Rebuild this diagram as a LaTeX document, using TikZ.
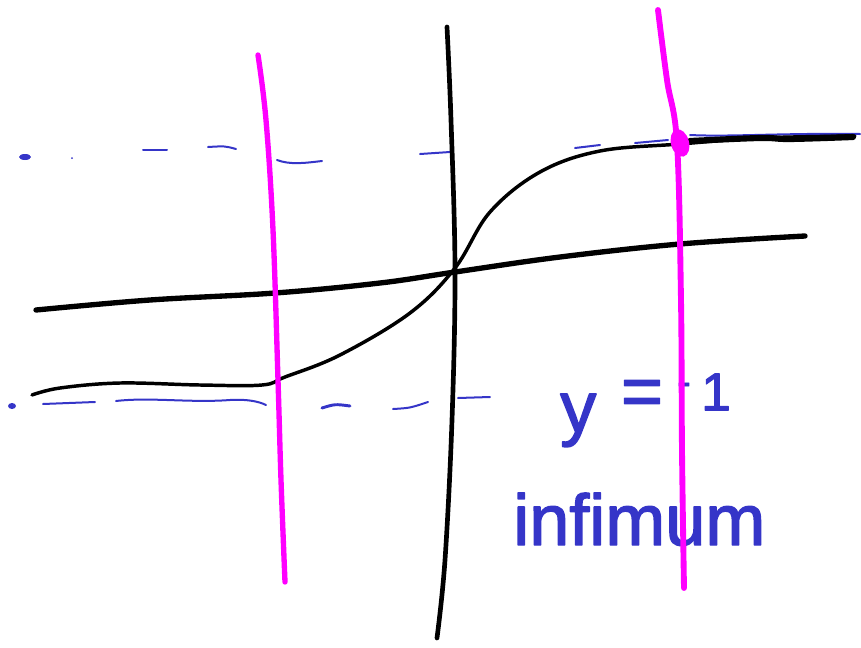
\documentclass[tikz,border=0pt]{standalone}
\usepackage{fontspec}
\setmainfont{Liberation Sans}
\newfontfamily\handfont[FakeBold=2]{Liberation Sans}
\definecolor{inkblue}{HTML}{3535C8}
\definecolor{inkmag}{HTML}{FF00FF}
\begin{document}
\begin{tikzpicture}[x=0.75pt,y=-0.75pt,line cap=round,line join=round]
\tikzset{
  dashink/.style={inkblue,line width=1.5pt},
  axisink/.style={black,line width=3.5pt},
  thickink/.style={black,line width=4pt},
  sigink/.style={black,line width=2.6pt},
  magink/.style={inkmag,line width=4pt},
  label/.style={inkblue,inner sep=0pt,font=\handfont\fontsize{54pt}{60pt}\selectfont}
}
\useasboundingbox (0,0) rectangle (861,647);
% top dashed line (y = 1)
\fill[inkblue] (25,157) ellipse [x radius=6, y radius=3];
\fill[inkblue] (72,158) circle (1);
\draw[dashink] (143,150) -- (167,150);
\draw[dashink] (208,147) .. controls (225,146) .. (236,149);
\draw[dashink] (277,160) .. controls (290,165) and (305,163) .. (322,161);
\draw[dashink] (420,154) -- (450,152);
\draw[dashink] (575,148) -- (600,145);
\draw[dashink] (635,143) -- (668,140);
\draw[dashink] (690,135) .. controls (730,137) and (780,133) .. (860,134);
% bottom dashed line (y = -1)
\fill[inkblue] (12,406) ellipse [x radius=4, y radius=3];
\draw[dashink] (43,404) -- (95,402);
\draw[dashink] (116,401) .. controls (150,397) and (190,403) .. (230,400) .. controls (245,399) and (258,401) .. (266,405);
\draw[dashink,line width=2.2pt] (322,408) .. controls (335,404) .. (350,406);
\draw[dashink] (393,409) .. controls (410,408) .. (428,402);
\draw[dashink] (458,398) -- (490,397);
% labels
\node[label,anchor=base west] (yeq) at (560,432) {y};
\node[label,anchor=center] (eq) at (642,398) {=};
\node[label,anchor=center,font=\handfont\fontsize{30pt}{34pt}\selectfont] (minus) at (684,389) {-};
\node[label,anchor=center,font=\handfont\fontsize{40pt}{44pt}\selectfont] (one) at (716,392) {1};
\node[label,anchor=base west] (inf) at (513,545) {infimum};
% black curves
\draw[axisink] plot[smooth,tension=0.6] coordinates {(447,27) (451,120) (455,270) (452,420) (445,560) (437,638)};
\draw[thickink] plot[smooth,tension=0.6] coordinates {(36,310) (150,300) (275,293) (380,283) (455,272) (560,257) (680,244) (805,236)};
\draw[sigink] plot[smooth,tension=0.6] coordinates {(32,395) (60,388) (120,383) (200,385) (262,385) (285,377) (340,355) (410,313) (455,268) (490,212) (540,172) (600,151) (680,144) (760,138) (855,136)};
\draw[black,line width=4.6pt] plot[smooth,tension=0.6] coordinates {(690,141) (760,138) (790,139) (853,137)};
% magenta verticals
\draw[magink] plot[smooth,tension=0.6] coordinates {(258,55) (266,120) (273,230) (278,380) (281,480) (285,582)};
\draw[magink,line width=4.4pt] plot[smooth,tension=0.6] coordinates {(658,10) (667,80) (677,143) (681,300) (682,450) (684,588)};
\fill[inkmag] (680,143) ellipse [x radius=9, y radius=14, rotate=15];
\end{tikzpicture}
\end{document}
